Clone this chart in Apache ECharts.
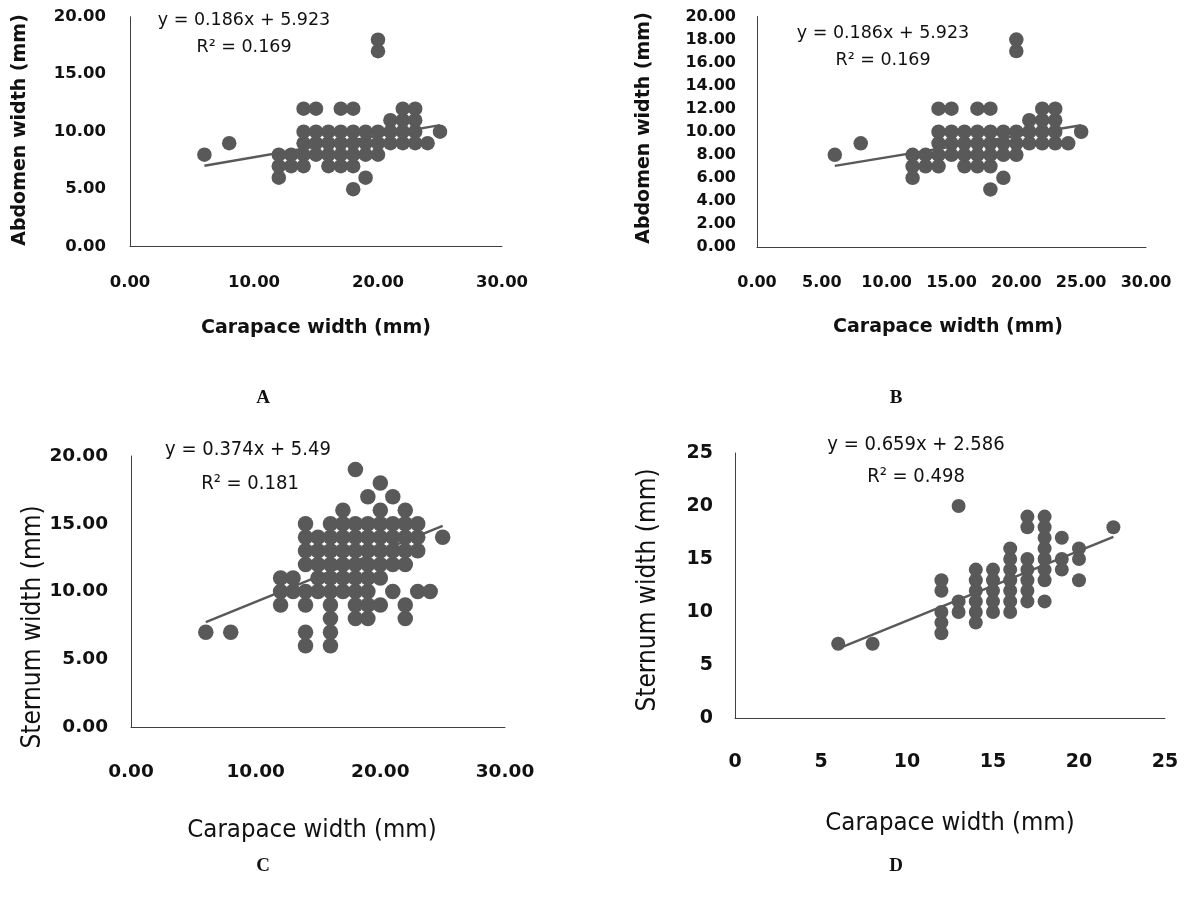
<!DOCTYPE html>
<html><head><meta charset="utf-8">
<script src="https://cdn.jsdelivr.net/npm/echarts@6/dist/echarts.min.js"></script>
<style>html,body{margin:0;padding:0;background:#fff}#c{width:1185px;height:909px}</style>
</head><body><div id="c"></div>
<script>
// ---- Panels A & B: Carapace width vs Abdomen width (same data) ----
const abCarapace = [6, 8,
  12, 12, 12, 13, 13,
  14, 14, 14, 14, 14,
  15, 15, 15, 15,
  16, 16, 16, 16,
  17, 17, 17, 17, 17,
  18, 18, 18, 18, 18, 18,
  19, 19, 19, 19,
  20, 20, 20, 20, 20,
  21, 21, 21,
  22, 22, 22, 22,
  23, 23, 23, 23,
  24, 25];
const abAbdomen = [8, 9,
  6, 7, 8, 7, 8,
  7, 8, 9, 10, 12,
  8, 9, 10, 12,
  7, 8, 9, 10,
  7, 8, 9, 10, 12,
  5, 7, 8, 9, 10, 12,
  6, 8, 9, 10,
  8, 9, 10, 17, 18,
  9, 10, 11,
  9, 10, 11, 12,
  9, 10, 11, 12,
  9, 10];
const abTrend = { slope: 0.186, intercept: 5.923 };
const abEqText = ['y = 0.186x + 5.923', 'R² = 0.169'];

// ---- Panel C: Carapace width vs Sternum width ----
const cCarapace = [6, 8,
  12, 12, 12, 13, 13,
  14, 14, 14, 14, 14, 14, 14, 14,
  15, 15, 15, 15, 15,
  16, 16, 16, 16, 16, 16, 16, 16, 16, 16,
  17, 17, 17, 17, 17, 17, 17,
  18, 18, 18, 18, 18, 18, 18, 18, 18,
  19, 19, 19, 19, 19, 19, 19, 19, 19,
  20, 20, 20, 20, 20, 20, 20, 20,
  21, 21, 21, 21, 21, 21,
  22, 22, 22, 22, 22, 22, 22,
  23, 23, 23, 23,
  24, 25];
const cSternum = [7, 7,
  9, 10, 11, 10, 11,
  6, 7, 9, 10, 12, 13, 14, 15,
  10, 11, 12, 13, 14,
  6, 7, 8, 9, 10, 11, 12, 13, 14, 15,
  10, 11, 12, 13, 14, 15, 16,
  8, 9, 10, 11, 12, 13, 14, 15, 19,
  8, 9, 10, 11, 12, 13, 14, 15, 17,
  9, 11, 12, 13, 14, 15, 16, 18,
  10, 12, 13, 14, 15, 17,
  8, 9, 12, 13, 14, 15, 16,
  10, 13, 14, 15,
  10, 14];
const cTrend = { slope: 0.374, intercept: 5.49 };
const cEqText = ['y = 0.374x + 5.49', 'R² = 0.181'];

// ---- Panel D: Carapace width vs Sternum width ----
const dCarapace = [6, 8,
  12, 12, 12, 12, 12,
  13, 13, 13,
  14, 14, 14, 14, 14, 14,
  15, 15, 15, 15, 15,
  16, 16, 16, 16, 16, 16, 16,
  17, 17, 17, 17, 17, 17, 17,
  18, 18, 18, 18, 18, 18, 18, 18,
  19, 19, 19,
  20, 20, 20,
  22];
const dSternum = [7, 7,
  8, 9, 10, 12, 13,
  10, 11, 20,
  9, 10, 11, 12, 13, 14,
  10, 11, 12, 13, 14,
  10, 11, 12, 13, 14, 15, 16,
  11, 12, 13, 14, 15, 18, 19,
  11, 13, 14, 15, 16, 17, 18, 19,
  14, 15, 17,
  13, 15, 16,
  18];
const dTrend = { slope: 0.659, intercept: 2.586 };
const dEqText = ['y = 0.659x + 2.586', 'R² = 0.498'];

const xTitle = 'Carapace width (mm)';
const yTitleAB = 'Abdomen width (mm)';
const yTitleCD = 'Sternum width (mm)';
const panelLetters = ['A', 'B', 'C', 'D'];

// ---------- build ----------
const MARK = '#595959';
const AXIS = '#404040';
const zip = (xs, ys) => xs.map((x, i) => [x, ys[i]]);
function trend(xs, t) {
  const lo = Math.min(...xs), hi = Math.max(...xs);
  return [[lo, t.slope * lo + t.intercept], [hi, t.slope * hi + t.intercept]];
}
const fmt2 = v => v.toFixed(2);
const fmt0 = v => String(v);

const grids = [
  { left: 130, top: 16.7, width: 372, height: 230 },
  { left: 757, top: 16.5, width: 389, height: 230.5 },
  { left: 131, top: 456, width: 374, height: 271 },
  { left: 735, top: 453, width: 430, height: 265 }
];
const axCfg = [
  { xmax: 30, xint: 10, ymax: 20, yint: 5, f: fmt2, fs: 16.5, xm: 28, ym: 24, sym: 14.5 },
  { xmax: 30, xint: 5, ymax: 20, yint: 2, f: fmt2, fs: 16, xm: 28, ym: 21, sym: 14.5 },
  { xmax: 30, xint: 10, ymax: 20, yint: 5, f: fmt2, fs: 18.5, xm: 36, ym: 23, sym: 15.5 },
  { xmax: 25, xint: 5, ymax: 25, yint: 5, f: fmt0, fs: 19, xm: 35, ym: 22, sym: 14 }
];
const xAxis = [], yAxis = [];
axCfg.forEach((c, i) => {
  const lbl = { fontFamily: 'DejaVu Sans', fontWeight: 'bold', fontSize: c.fs, color: '#111', formatter: c.f };
  xAxis.push({ gridIndex: i, type: 'value', min: 0, max: c.xmax, interval: c.xint,
    axisLine: { show: true, onZero: false, lineStyle: { color: AXIS, width: 1 } },
    axisTick: { show: false }, splitLine: { show: false },
    axisLabel: Object.assign({ margin: c.xm }, lbl) });
  yAxis.push({ gridIndex: i, type: 'value', min: 0, max: c.ymax, interval: c.yint,
    axisLine: { show: true, onZero: false, lineStyle: { color: AXIS, width: 1 } },
    axisTick: { show: false }, splitLine: { show: false },
    axisLabel: Object.assign({ margin: c.ym, hideOverlap: false }, lbl) });
});

const sets = [
  [abCarapace, abAbdomen, abTrend],
  [abCarapace, abAbdomen, abTrend],
  [cCarapace, cSternum, cTrend],
  [dCarapace, dSternum, dTrend]
];
const series = [];
sets.forEach((s, i) => {
  series.push({ type: 'scatter', xAxisIndex: i, yAxisIndex: i, data: zip(s[0], s[1]),
    symbol: 'circle', symbolSize: axCfg[i].sym, itemStyle: { color: MARK, opacity: 1 }, silent: true, z: 2 });
  series.push({ type: 'line', xAxisIndex: i, yAxisIndex: i, data: trend(s[0], s[2]),
    symbol: 'none', lineStyle: { color: MARK, width: 2.5 }, silent: true, z: 3 });
});

function txt(text, x, y, font, rot) {
  return { type: 'text', x: x, y: y, rotation: rot || 0, silent: true,
    style: { text: text, font: font, fill: '#111', align: 'center', verticalAlign: 'middle' } };
}
const fAB = 'bold 19px "DejaVu Sans"';
const fCDy = '26px "DejaVu Sans Condensed", "DejaVu Sans"';
const fCDx = '25.5px "DejaVu Sans Condensed", "DejaVu Sans"';
const fEqAB = '17.5px "DejaVu Sans"';
const fEqCD = '20px "DejaVu Sans Condensed", "DejaVu Sans"';
const fLet = 'bold 19px "Liberation Serif"';
const graphic = [
  // A
  txt(abEqText[0], 244, 20, fEqAB), txt(abEqText[1], 244, 47, fEqAB),
  txt(yTitleAB, 20, 130, fAB, Math.PI / 2), txt(xTitle, 316, 328, fAB),
  txt(panelLetters[0], 263, 398, fLet),
  // B
  txt(abEqText[0], 883, 33, fEqAB), txt(abEqText[1], 883, 60, fEqAB),
  txt(yTitleAB, 644, 128, fAB, Math.PI / 2), txt(xTitle, 948, 327, fAB),
  txt(panelLetters[1], 896, 398, fLet),
  // C
  txt(cEqText[0], 248, 450, fEqCD), txt(cEqText[1], 250, 484, fEqCD),
  txt(yTitleCD, 33, 627, fCDy, Math.PI / 2), txt(xTitle, 312, 830, fCDx),
  txt(panelLetters[2], 263, 866, fLet),
  // D
  txt(dEqText[0], 916, 445, fEqCD), txt(dEqText[1], 916, 477, fEqCD),
  txt(yTitleCD, 648, 590, fCDy, Math.PI / 2), txt(xTitle, 950, 823, fCDx),
  txt(panelLetters[3], 896, 866, fLet)
];

const chart = echarts.init(document.getElementById('c'), null, { renderer: 'canvas' });
chart.setOption({ animation: false, backgroundColor: '#fff', grid: grids, xAxis: xAxis, yAxis: yAxis, series: series, graphic: graphic });
</script></body></html>
